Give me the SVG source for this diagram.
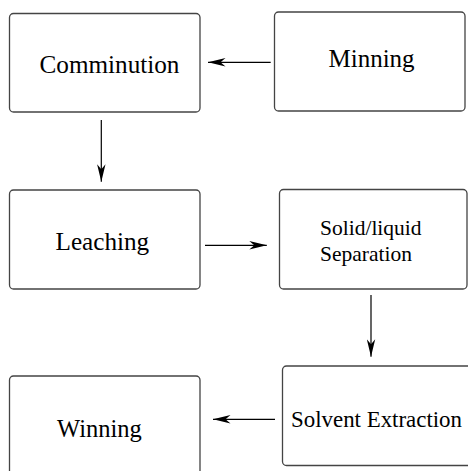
<svg xmlns="http://www.w3.org/2000/svg" width="468" height="471" viewBox="0 0 468 471">
  <defs>
    <marker id="arrow" markerUnits="userSpaceOnUse" viewBox="0 0 18 9" refX="17.5" refY="4.5" markerWidth="18" markerHeight="9" orient="auto">
      <path d="M0,0.3 L17.5,4.5 L0,8.7 L5,4.5 Z" fill="#000"/>
    </marker>
  </defs>
  <style>
    .box { fill: #fff; stroke: #444; stroke-width: 1.3; }
    .lbl { font-family: "Liberation Serif", "Times New Roman", serif; fill: #000; }
    .conn { stroke: #000; stroke-width: 1.2; fill: none; marker-end: url(#arrow); }
  </style>
  <rect width="468" height="471" fill="#fff"/>

  <g id="comminution">
    <rect class="box" x="9.5" y="13.5" width="190.5" height="98.5" rx="4"/>
    <text class="lbl" x="39.5" y="73" font-size="25.2">Comminution</text>
  </g>
  <g id="minning">
    <rect class="box" x="274.5" y="12" width="190.5" height="99" rx="4"/>
    <text class="lbl" x="328.5" y="67" font-size="25">Minning</text>
  </g>
  <g id="leaching">
    <rect class="box" x="9.5" y="190" width="190.5" height="99" rx="4"/>
    <text class="lbl" x="55.5" y="250" font-size="25.2">Leaching</text>
  </g>
  <g id="solid-liquid-separation">
    <rect class="box" x="279.5" y="189.5" width="187.5" height="99.5" rx="4"/>
    <text class="lbl" x="320" y="235" font-size="21.5">Solid/liquid</text>
    <text class="lbl" x="320" y="260.5" font-size="21.5">Separation</text>
  </g>
  <g id="solvent-extraction">
    <rect class="box" x="282.5" y="366" width="192" height="99.5" rx="4"/>
    <text class="lbl" x="291" y="427" font-size="22.9">Solvent Extraction</text>
  </g>
  <g id="winning">
    <rect class="box" x="9.5" y="376" width="190.5" height="104" rx="4"/>
    <text class="lbl" x="57" y="437" font-size="24.5">Winning</text>
  </g>

  <g id="connectors">
    <line class="conn" x1="270.7" y1="62.3" x2="208" y2="62.3"/>
    <line class="conn" x1="101.3" y1="120" x2="101.3" y2="181.7"/>
    <line class="conn" x1="205" y1="245.3" x2="266.8" y2="245.3"/>
    <line class="conn" x1="371" y1="295" x2="371" y2="356.7"/>
    <line class="conn" x1="275" y1="419.3" x2="213" y2="419.3"/>
  </g>
</svg>
